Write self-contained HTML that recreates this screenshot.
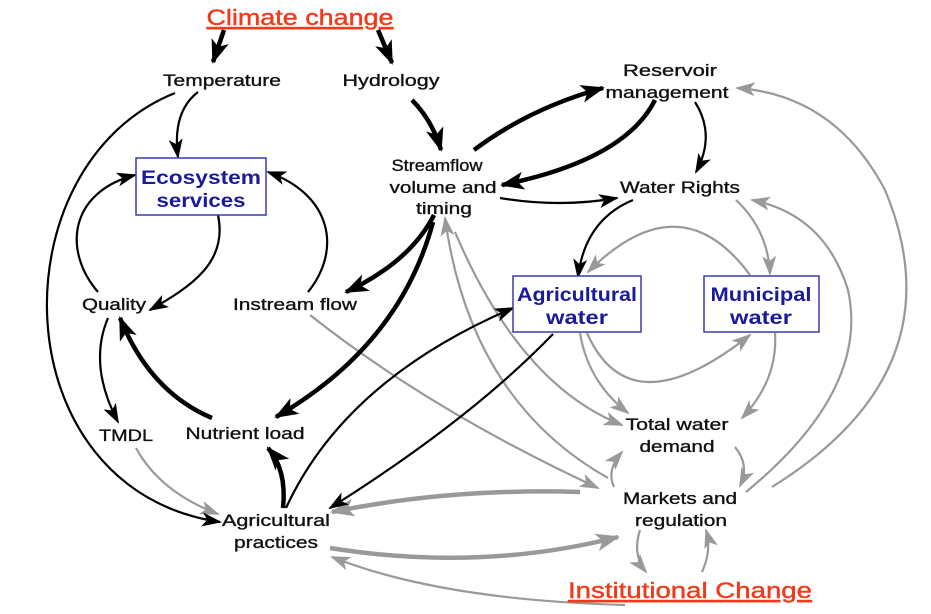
<!DOCTYPE html>
<html><head><meta charset="utf-8"><style>
html,body{margin:0;padding:0;background:#fff;}
svg{display:block;}
text{font-family:"Liberation Sans",Arial,sans-serif;}
.l{font-size:17px;fill:#111;stroke:#111;stroke-width:0.35;text-anchor:middle;}
.b{font-size:19px;font-weight:bold;fill:#1a1a9a;text-anchor:middle;}
.r{font-size:22px;fill:#f03a1a;stroke:#f03a1a;stroke-width:0.4;text-anchor:middle;text-decoration:underline;}
.k{fill:none;stroke:#000;stroke-width:2.2;marker-end:url(#ak);}
.K{fill:none;stroke:#000;stroke-width:4.5;marker-end:url(#aK);}
.g{fill:none;stroke:#999;stroke-width:2.2;marker-end:url(#ag);}
.G{fill:none;stroke:#999;stroke-width:4.5;marker-end:url(#aG);}
</style></head><body>
<svg width="931" height="614" viewBox="0 0 931 614" xmlns="http://www.w3.org/2000/svg">
<defs>
<marker id="ak" markerUnits="userSpaceOnUse" markerWidth="20" markerHeight="14" refX="18" refY="7" orient="auto"><path d="M0,0 L20,7 L0,14 L5,7z" fill="#000"/></marker>
<marker id="aK" markerUnits="userSpaceOnUse" markerWidth="24" markerHeight="18" refX="22" refY="9" orient="auto"><path d="M0,0 L24,9 L0,18 L6,9z" fill="#000"/></marker>
<marker id="ag" markerUnits="userSpaceOnUse" markerWidth="20" markerHeight="14" refX="18" refY="7" orient="auto"><path d="M0,0 L20,7 L0,14 L5,7z" fill="#999"/></marker>
<marker id="aG" markerUnits="userSpaceOnUse" markerWidth="24" markerHeight="18" refX="22" refY="9" orient="auto"><path d="M0,0 L24,9 L0,18 L6,9z" fill="#999"/></marker>
</defs>

<!-- gray connectors -->
<path class="g" d="M136,448 Q160,492 218,514"/>
<path class="g" d="M310,315 Q430,410 598,488"/>
<path class="g" d="M608,478 Q470,400 445,218"/>
<path class="g" d="M455,232 Q520,385 622,425"/>
<path class="G" d="M580,492 Q450,488 332,512"/>
<path class="G" d="M330,548 Q480,572 618,537"/>
<path class="g" d="M625,605 Q440,600 332,557"/>
<path class="g" d="M640,530 Q632,555 646,572"/>
<path class="g" d="M702,572 Q712,550 706,530"/>
<path class="g" d="M735,447 Q750,465 740,486"/>
<path class="g" d="M614,487 Q606,470 622,452"/>
<path class="g" d="M580,333 Q588,382 628,413"/>
<path class="g" d="M775,333 Q778,380 742,418"/>
<path class="g" d="M587,333 Q630,430 750,335"/>
<path class="g" d="M750,275 Q680,180 588,272"/>
<path class="g" d="M736,200 Q768,230 770,274"/>
<path class="g" d="M772,487 Q960,370 885,190 Q835,95 737,88"/>
<path class="g" d="M746,492 Q870,390 848,290 Q825,215 752,200"/>

<!-- black connectors -->
<path class="K" d="M224,30 L213,62"/>
<path class="K" d="M378,30 L392,63"/>
<path class="K" d="M412,100 Q432,120 441,150"/>
<path class="k" d="M198,92 Q172,112 178,157"/>
<path class="k" d="M175,93 C-5,165 0,490 220,522"/>
<path class="k" d="M218,215 C228,262 192,286 150,310"/>
<path class="k" d="M98,292 C62,250 70,192 135,175"/>
<path class="k" d="M308,292 C342,250 332,195 268,172"/>
<path class="K" d="M474,150 Q530,108 603,88"/>
<path class="K" d="M655,100 Q625,160 502,185"/>
<path class="k" d="M695,102 Q716,135 696,172"/>
<path class="k" d="M500,198 Q560,208 617,198"/>
<path class="k" d="M633,200 Q585,220 578,277"/>
<path class="K" d="M434,215 Q410,262 346,292"/>
<path class="K" d="M433,222 Q400,345 276,417"/>
<path class="k" d="M108,318 Q88,365 118,422"/>
<path class="K" d="M212,418 Q150,392 120,318"/>
<path class="K" d="M283,508 Q287,470 268,448"/>
<path class="k" d="M286,508 Q345,380 513,308"/>
<path class="k" d="M553,334 Q470,420 330,508"/>

<!-- boxes -->
<rect x="136" y="158" width="130" height="57" fill="#fff" stroke="#3a3ab0" stroke-width="1.5"/>
<rect x="513" y="276" width="128" height="56" fill="#fff" stroke="#3a3ab0" stroke-width="1.5"/>
<rect x="704" y="276" width="115" height="56" fill="#fff" stroke="#3a3ab0" stroke-width="1.5"/>
<text class="b" x="201" y="184" textLength="120" lengthAdjust="spacingAndGlyphs">Ecosystem</text>
<text class="b" x="201" y="207" textLength="89" lengthAdjust="spacingAndGlyphs">services</text>
<text class="b" x="577" y="301" textLength="120" lengthAdjust="spacingAndGlyphs">Agricultural</text>
<text class="b" x="577" y="324" textLength="62" lengthAdjust="spacingAndGlyphs">water</text>
<text class="b" x="761" y="301" textLength="101" lengthAdjust="spacingAndGlyphs">Municipal</text>
<text class="b" x="761" y="324" textLength="62" lengthAdjust="spacingAndGlyphs">water</text>

<!-- labels -->
<text class="r" x="300" y="25" textLength="187" lengthAdjust="spacingAndGlyphs">Climate change</text>
<text class="r" x="690" y="598" textLength="244" lengthAdjust="spacingAndGlyphs">Institutional Change</text>
<text class="l" x="222" y="86" textLength="118" lengthAdjust="spacingAndGlyphs">Temperature</text>
<text class="l" x="391" y="86" textLength="97" lengthAdjust="spacingAndGlyphs">Hydrology</text>
<text class="l" x="670" y="76" textLength="94" lengthAdjust="spacingAndGlyphs">Reservoir</text>
<text class="l" x="667" y="98" textLength="123" lengthAdjust="spacingAndGlyphs">management</text>
<text class="l" x="437" y="171" textLength="91" lengthAdjust="spacingAndGlyphs">Streamflow</text>
<text class="l" x="443" y="193" textLength="107" lengthAdjust="spacingAndGlyphs">volume and</text>
<text class="l" x="444" y="214" textLength="56" lengthAdjust="spacingAndGlyphs">timing</text>
<text class="l" x="680" y="193" textLength="120" lengthAdjust="spacingAndGlyphs">Water Rights</text>
<text class="l" x="114" y="310" textLength="64" lengthAdjust="spacingAndGlyphs">Quality</text>
<text class="l" x="295" y="310" textLength="124" lengthAdjust="spacingAndGlyphs">Instream flow</text>
<text class="l" x="126" y="441" textLength="54" lengthAdjust="spacingAndGlyphs">TMDL</text>
<text class="l" x="245" y="439" textLength="119" lengthAdjust="spacingAndGlyphs">Nutrient load</text>
<text class="l" x="677" y="430" textLength="103" lengthAdjust="spacingAndGlyphs">Total water</text>
<text class="l" x="677" y="452" textLength="75" lengthAdjust="spacingAndGlyphs">demand</text>
<text class="l" x="680" y="504" textLength="114" lengthAdjust="spacingAndGlyphs">Markets and</text>
<text class="l" x="681" y="526" textLength="92" lengthAdjust="spacingAndGlyphs">regulation</text>
<text class="l" x="276" y="526" textLength="108" lengthAdjust="spacingAndGlyphs">Agricultural</text>
<text class="l" x="276" y="548" textLength="84" lengthAdjust="spacingAndGlyphs">practices</text>
</svg>
</body></html>
